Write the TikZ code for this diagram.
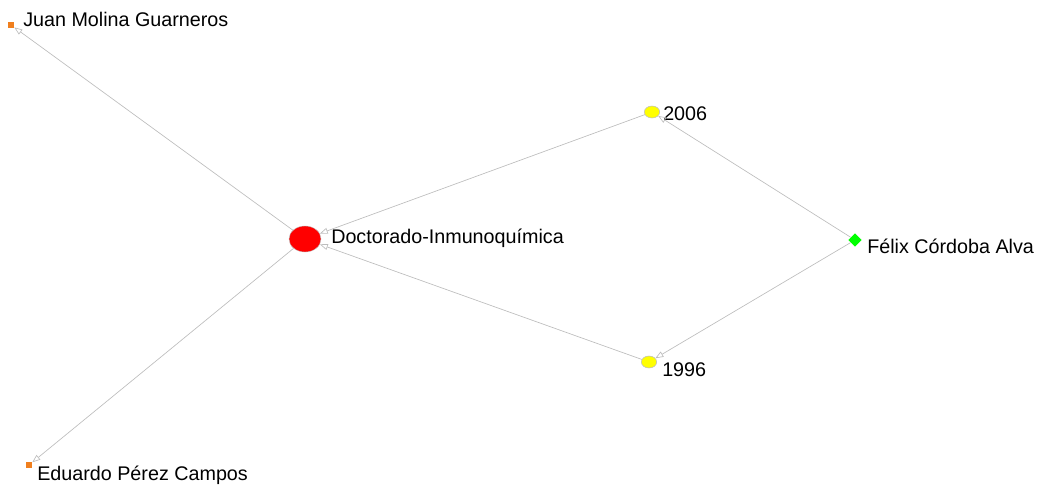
\documentclass[tikz,border=0pt]{standalone}
\usepackage{fontspec}
\setmainfont{Liberation Sans}
\usetikzlibrary{arrows.meta,shapes.geometric}
\definecolor{edgegray}{HTML}{BDBDBD}
\definecolor{nodeorange}{HTML}{F07F1E}
\definecolor{nodered}{HTML}{FF0000}
\definecolor{nodeyellow}{HTML}{FFFF00}
\definecolor{nodegreen}{HTML}{00FF00}

\tikzset{
  person/.style={rectangle,fill=nodeorange,inner sep=0pt,minimum size=4.5pt},
  degree/.style={ellipse,fill=nodered,draw=edgegray,line width=0.3pt,inner sep=0pt,minimum width=24pt,minimum height=19.5pt},
  year/.style={ellipse,fill=nodeyellow,draw=edgegray,line width=0.4pt,inner sep=0pt,minimum width=11.5pt,minimum height=9pt},
  author/.style={diamond,fill=nodegreen,inner sep=0pt,minimum size=10pt},
  lbl/.style={anchor=west,font=\fontsize{14.8pt}{15pt}\selectfont,inner sep=0pt},
  link/.style={draw=edgegray,line width=0.5pt,-{Triangle[open,length=6pt,width=4.5pt]}}
}

\begin{document}
\begin{tikzpicture}[x=0.75pt,y=-0.75pt]
\useasboundingbox (0,0) rectangle (1038,485);
% nodes
\node[person] (juan) at (11,25) {};
\node[degree] (doct) at (305,239) {};
\node[year] (y2006) at (652,112) {};
\node[year] (y1996) at (649,362) {};
\node[author] (felix) at (855,240) {};
\node[person] (eduardo) at (29,465) {};
% labels
\node[lbl] at (23,19) {Juan Molina Guarneros};
\node[lbl] at (331,238) {Doctorado-Inmunoquímica};
\node[lbl] at (663,114) {2006};
\node[lbl] at (662,370) {1996};
\node[lbl] at (867,246) {Félix Córdoba Alva};
\node[lbl] at (37,475) {Eduardo Pérez Campos};
% edges
\draw[link] (doct) -- (juan);
\draw[link] (doct) -- (eduardo);
\draw[link] (y2006) -- (doct);
\draw[link] (y1996) -- (doct);
\draw[link] (felix) -- (y2006);
\draw[link] (felix) -- (y1996);
\end{tikzpicture}
\end{document}
